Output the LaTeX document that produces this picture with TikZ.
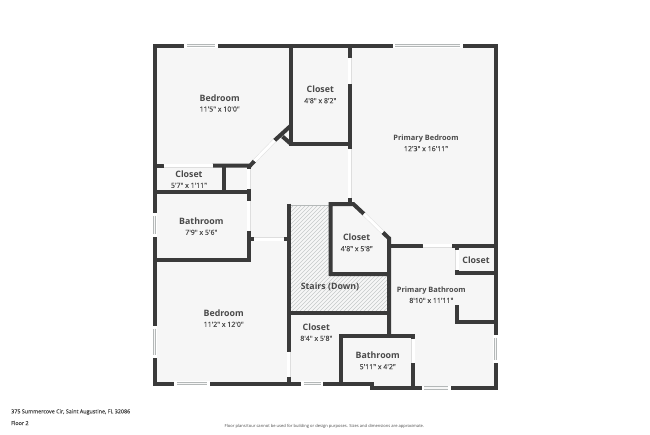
\documentclass[tikz,border=0pt]{standalone}
\usepackage{fontspec}
\newfontfamily\planfont{Open Sans}
\newfontfamily\plansemi{Open Sans}[FakeBold=0.25]
\usetikzlibrary{calc}

\definecolor{wallgray}{HTML}{3A3A3A}
\definecolor{floorgray}{HTML}{F6F6F6}
\definecolor{labelgray}{HTML}{4A4A4A}
\definecolor{glassgray}{HTML}{B4B8B8}
\definecolor{hatchgray}{HTML}{C6CACA}
\definecolor{doorgray}{HTML}{DEDEDE}

\newcommand{\roomname}[1]{{\planfont\bfseries\fontsize{8.8pt}{10pt}\selectfont #1}}
\newcommand{\roomnamesmall}[1]{{\planfont\bfseries\fontsize{7.4pt}{9pt}\selectfont #1}}

\tikzset{
    wall/.style={draw=wallgray, line width=4pt, line cap=rect, line join=miter},
    thinwall/.style={draw=wallgray, line width=4pt},
    opening/.style={draw=doorgray, line width=4pt},
    openingcore/.style={draw=white, line width=3pt},
    room/.style={font=\plansemi\fontsize{7pt}{10.4pt}\selectfont, text=labelgray, align=center, inner sep=0pt},
    footer/.style={text=labelgray, inner sep=0pt, anchor=west},
}

\begin{document}
\begin{tikzpicture}[x=1pt, y=-1pt]
    \useasboundingbox (0,0) rectangle (650,434);
    \fill[white] (0,0) rectangle (650,434);

    %floor
    \fill[floorgray] (154.5,45.5) -- (495.5,45.5) -- (495.5,388) -- (371.7,388) -- (371.7,383.5) -- (154.5,383.5) -- cycle;

    %stairs
    \begin{scope}
        \clip (290.5,205) -- (331,205) -- (331,275.5) -- (387.5,275.5) -- (387.5,311) -- (290.5,311) -- cycle;
        \foreach \s in {495,499,...,703} {
            \draw[hatchgray, line width=0.6pt] (\s-311,311) -- (\s-201,201);
        }
    \end{scope}
    \draw[glassgray, line width=0.8pt] (290.5,205.4) -- (330,205.4);

    %outer walls
    \draw[wall] (154.5,45.5) -- (495.5,45.5) -- (495.5,388) -- (371.7,388) -- (371.7,383.5) -- (154.5,383.5) -- cycle;

    %upper left rooms
    \draw[thinwall] (291,45.5) -- (291,144) -- (349.7,144);
    \draw[thinwall] (291,125.5) -- (274.5,140.5);
    \draw[thinwall] (282.5,136.5) -- (291,144);
    \draw[thinwall] (154.5,165.7) -- (163.5,165.7);
    \draw[thinwall] (212.7,165.7) -- (250,165.7) -- (254.5,161);
    \draw[thinwall] (223.7,165.7) -- (223.7,192.3);
    \draw[thinwall] (154.5,192.3) -- (248.7,192.3);
    \draw[thinwall] (248.7,189) -- (248.7,201);
    \draw[thinwall] (248.7,231) -- (248.7,260.3) -- (154.5,260.3);
    \draw[thinwall] (248.7,239.3) -- (254,239.3);
    \draw[thinwall] (248.7,165.7) -- (248.7,169);

    %primary bedroom side
    \draw[thinwall] (349.7,45.5) -- (349.7,57.7);
    \draw[thinwall] (349.7,84.3) -- (349.7,149);

    %middle rooms
    \draw[thinwall] (349.7,198) -- (349.7,204);
    \draw[thinwall] (284,239.3) -- (288.7,239.3);
    \draw[thinwall] (288.7,203.5) -- (288.7,351.7);
    \draw[thinwall] (288.7,376.7) -- (288.7,383.5);
    \draw[thinwall, line join=miter] (364,214) -- (353.3,204) -- (330.7,204) -- (330.7,274) -- (389,274);
    \draw[thinwall] (382.7,232.3) -- (389,238.3) -- (389,335.7);
    \draw[thinwall] (288.7,312.7) -- (389,312.7);

    %primary bathroom
    \draw[thinwall] (389,245.7) -- (422.7,245.7);
    \draw[thinwall] (451.7,245.7) -- (495.5,245.7);
    \draw[thinwall] (457.3,245.7) -- (457.3,249.5);
    \draw[thinwall] (457.3,270) -- (457.3,273.3) -- (495.5,273.3);
    \draw[thinwall] (457.3,305) -- (457.3,322.3) -- (495.5,322.3);

    %lower bathroom
    \draw[thinwall] (340.7,383.5) -- (340.7,335.7) -- (415,335.7);
    \draw[thinwall] (413,335.7) -- (413,338.5);
    \draw[thinwall] (413,362.7) -- (413,388);

    %doors
    \foreach \ax/\ay/\bx/\by in {
        163.5/165.7/212.7/165.7,
        274.5/140.5/254.5/161,
        248.7/169/248.7/189,
        248.7/201/248.7/231,
        254/239.3/284/239.3,
        349.7/57.7/349.7/84.3,
        349.7/149/349.7/198,
        288.7/351.7/288.7/376.7,
        364/214/382.7/232.3,
        422.7/245.7/451.7/245.7,
        457.3/249.5/457.3/270,
        413/338.5/413/362.7} {
        \draw[opening] (\ax,\ay) -- (\bx,\by);
        \draw[openingcore] (\ax,\ay) -- (\bx,\by);
    }

    %windows
    \foreach \ax/\ay/\bx/\by in {
        184.3/45.5/217.7/45.5,
        392.7/45.5/462.7/45.5,
        154.5/213/154.5/237,
        154.5/326/154.5/358,
        174.3/383.5/210/383.5,
        301/383.5/323.3/383.5,
        421.7/388/450.7/388,
        495.5/335/495.5/362.7} {
        \draw[white, line width=4.4pt] (\ax,\ay) -- (\bx,\by);
        \draw[glassgray, line width=3.6pt] ($(\ax,\ay)!2.7pt!(\bx,\by)$) -- ($(\bx,\by)!2.7pt!(\ax,\ay)$);
        \draw[floorgray, line width=1.7pt] ($(\ax,\ay)!2.7pt!(\bx,\by)$) -- ($(\bx,\by)!2.7pt!(\ax,\ay)$);
    }

    %labels
    \node[room] (bedroomtop) at (219.7,103) {\roomname{Bedroom}\\11'5" x 10'0"};
    \node[room] (closettop) at (320.3,94.7) {\roomname{Closet}\\4'8" x 8'2"};
    \node[room] (primarybed) at (426,143.2) {\roomnamesmall{Primary Bedroom}\\12'3" x 16'11"};
    \node[room] (closetlinen) at (189,179.3) {\roomname{Closet}\\5'7" x 1'11"};
    \node[room] (bathupper) at (201.3,226.3) {\roomname{Bathroom}\\7'9" x 5'6"};
    \node[room] (bedroomlow) at (223.7,318.3) {\roomname{Bedroom}\\11'2" x 12'0"};
    \node[room] (closethall) at (316.3,332.3) {\roomname{Closet}\\8'4" x 5'8"};
    \node[room] (closetmid) at (356.7,242.7) {\roomname{Closet}\\4'8" x 5'8"};
    \node[room] (stairs) at (330,287) {\roomname{Stairs (Down)}};
    \node[room] (closetsmall) at (476,260) {\roomname{Closet}};
    \node[room] (primarybath) at (431.3,295) {\roomnamesmall{Primary Bathroom}\\8'10" x 11'11"};
    \node[room] (bathlow) at (377.7,360.7) {\roomname{Bathroom}\\5'11" x 4'2"};

    %footer
    \node[footer, font=\plansemi\fontsize{5.4pt}{6pt}\selectfont] (address) at (11,412) {375 Summercove Cir, Saint Augustine, FL 32086};
    \node[footer, font=\plansemi\fontsize{5.4pt}{6pt}\selectfont] (floorname) at (11,423) {Floor 2};
    \node[footer, font=\planfont\fontsize{4.1pt}{5pt}\selectfont] (disclaimer) at (224.5,426) {Floor plans/tour cannot be used for building or design purposes. Sizes and dimensions are approximate.};
\end{tikzpicture}
\end{document}
